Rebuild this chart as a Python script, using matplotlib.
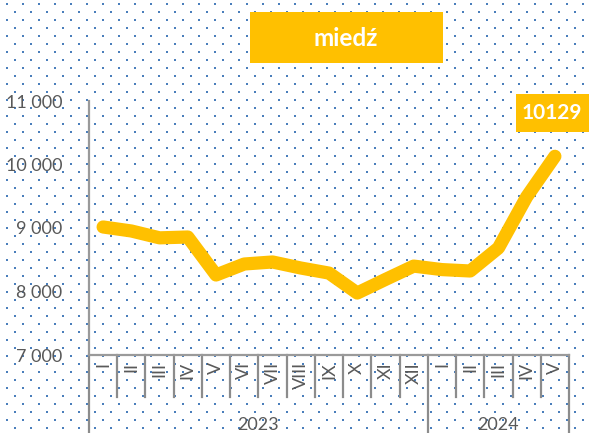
import matplotlib
matplotlib.use("Agg")
import matplotlib.pyplot as plt
import matplotlib.transforms as mtransforms
from matplotlib.patches import Rectangle
import numpy as np

months = ["I", "II", "III", "IV", "V", "VI", "VII", "VIII", "IX", "X", "XI", "XII",
          "I", "II", "III", "IV", "V"]
years = ["2023", "2024"]
year_counts = [12, 5]
values = [9016, 8953, 8845, 8858, 8260, 8433, 8465, 8370, 8290, 7976, 8190, 8400,
          8345, 8323, 8685, 9490, 10129]
yticks = [7000, 8000, 9000, 10000, 11000]
ytick_labels = ["7 000", "8 000", "9 000", "10 000", "11 000"]
title = "miedź"

W, H = 589, 433
fig = plt.figure(figsize=(W / 100, H / 100), dpi=100)
fig.patch.set_facecolor("white")

# dotted background
bg = fig.add_axes([0, 0, 1, 1], zorder=0)
bg.set_xlim(0, W)
bg.set_ylim(H, 0)
bg.axis("off")
xs1, ys1 = np.meshgrid(np.arange(7, W, 16), np.arange(4, H, 16))
xs2, ys2 = np.meshgrid(np.arange(15, W, 16), np.arange(12, H, 16))
bx = np.concatenate([xs1.ravel(), xs2.ravel()])
by = np.concatenate([ys1.ravel(), ys2.ravel()])
bg.scatter(bx, by, marker="s", s=2.6, color="#4a7ebb", linewidths=0)

font = "Lato"
gray = "#595959"
linec = "#9a9a9a"

ax = fig.add_axes([89 / W, 1 - 355 / H, 480 / W, 254 / H], zorder=2)
ax.patch.set_alpha(0)
n = len(months)
x = np.arange(n)
ax.plot(x, values, color="#FFC000", lw=9.5, solid_capstyle="round",
        solid_joinstyle="round", zorder=3)
ax.set_xlim(-0.5, n - 0.5)
ax.set_ylim(7000, 11000)
ax.set_yticks(yticks)
ax.set_yticklabels(ytick_labels, fontfamily=font, fontsize=13, color=gray)
ax.tick_params(axis="y", length=0, pad=19)
ax.set_xticks(x)
ax.set_xticklabels(months, rotation=90, fontfamily=font, fontsize=13, color=gray,
                   va="top", ha="center")
ax.tick_params(axis="x", length=0, pad=5)
for s in ["top", "right"]:
    ax.spines[s].set_visible(False)
for s in ["left", "bottom"]:
    ax.spines[s].set_color(linec)
    ax.spines[s].set_linewidth(1.6)

trans = mtransforms.blended_transform_factory(ax.transData, ax.transAxes)
ax_h = 254
short = -42 / ax_h
long_ = -80 / ax_h
boundaries = np.arange(n + 1) - 0.5
year_edges = np.concatenate([[0], np.cumsum(year_counts)]) - 0.5
for b in boundaries:
    is_long = np.any(np.isclose(b, year_edges))
    ax.plot([b, b], [0, long_ if is_long else short], transform=trans,
            color="#8c8c8c", lw=1.6, clip_on=False, zorder=1)
for i, yl in enumerate(years):
    cx = (year_edges[i] + year_edges[i + 1]) / 2
    ax.text(cx, -70 / ax_h, yl, transform=trans, ha="center", va="center",
            fontfamily=font, fontsize=13, color=gray, clip_on=False)

yellow = "#FFC000"
# title box
fig.patches.append(Rectangle((250 / W, 1 - 63 / H), 193 / W, 51 / H,
                             transform=fig.transFigure, facecolor=yellow,
                             edgecolor="none", zorder=3))
fig.text(346 / W, 1 - 39 / H, title, ha="center", va="center", color="white",
         fontfamily=font, fontweight="bold", fontsize=17.5, zorder=4)

# last value label
fig.patches.append(Rectangle((516 / W, 1 - 132 / H), 80 / W, 38 / H,
                             transform=fig.transFigure, facecolor=yellow,
                             edgecolor="none", zorder=3))
fig.text(552 / W, 1 - 113 / H, f"{values[-1]}", ha="center", va="center",
         color="white", fontfamily=font, fontweight="bold", fontsize=15, zorder=4)

fig.savefig("out.png", dpi=100)
